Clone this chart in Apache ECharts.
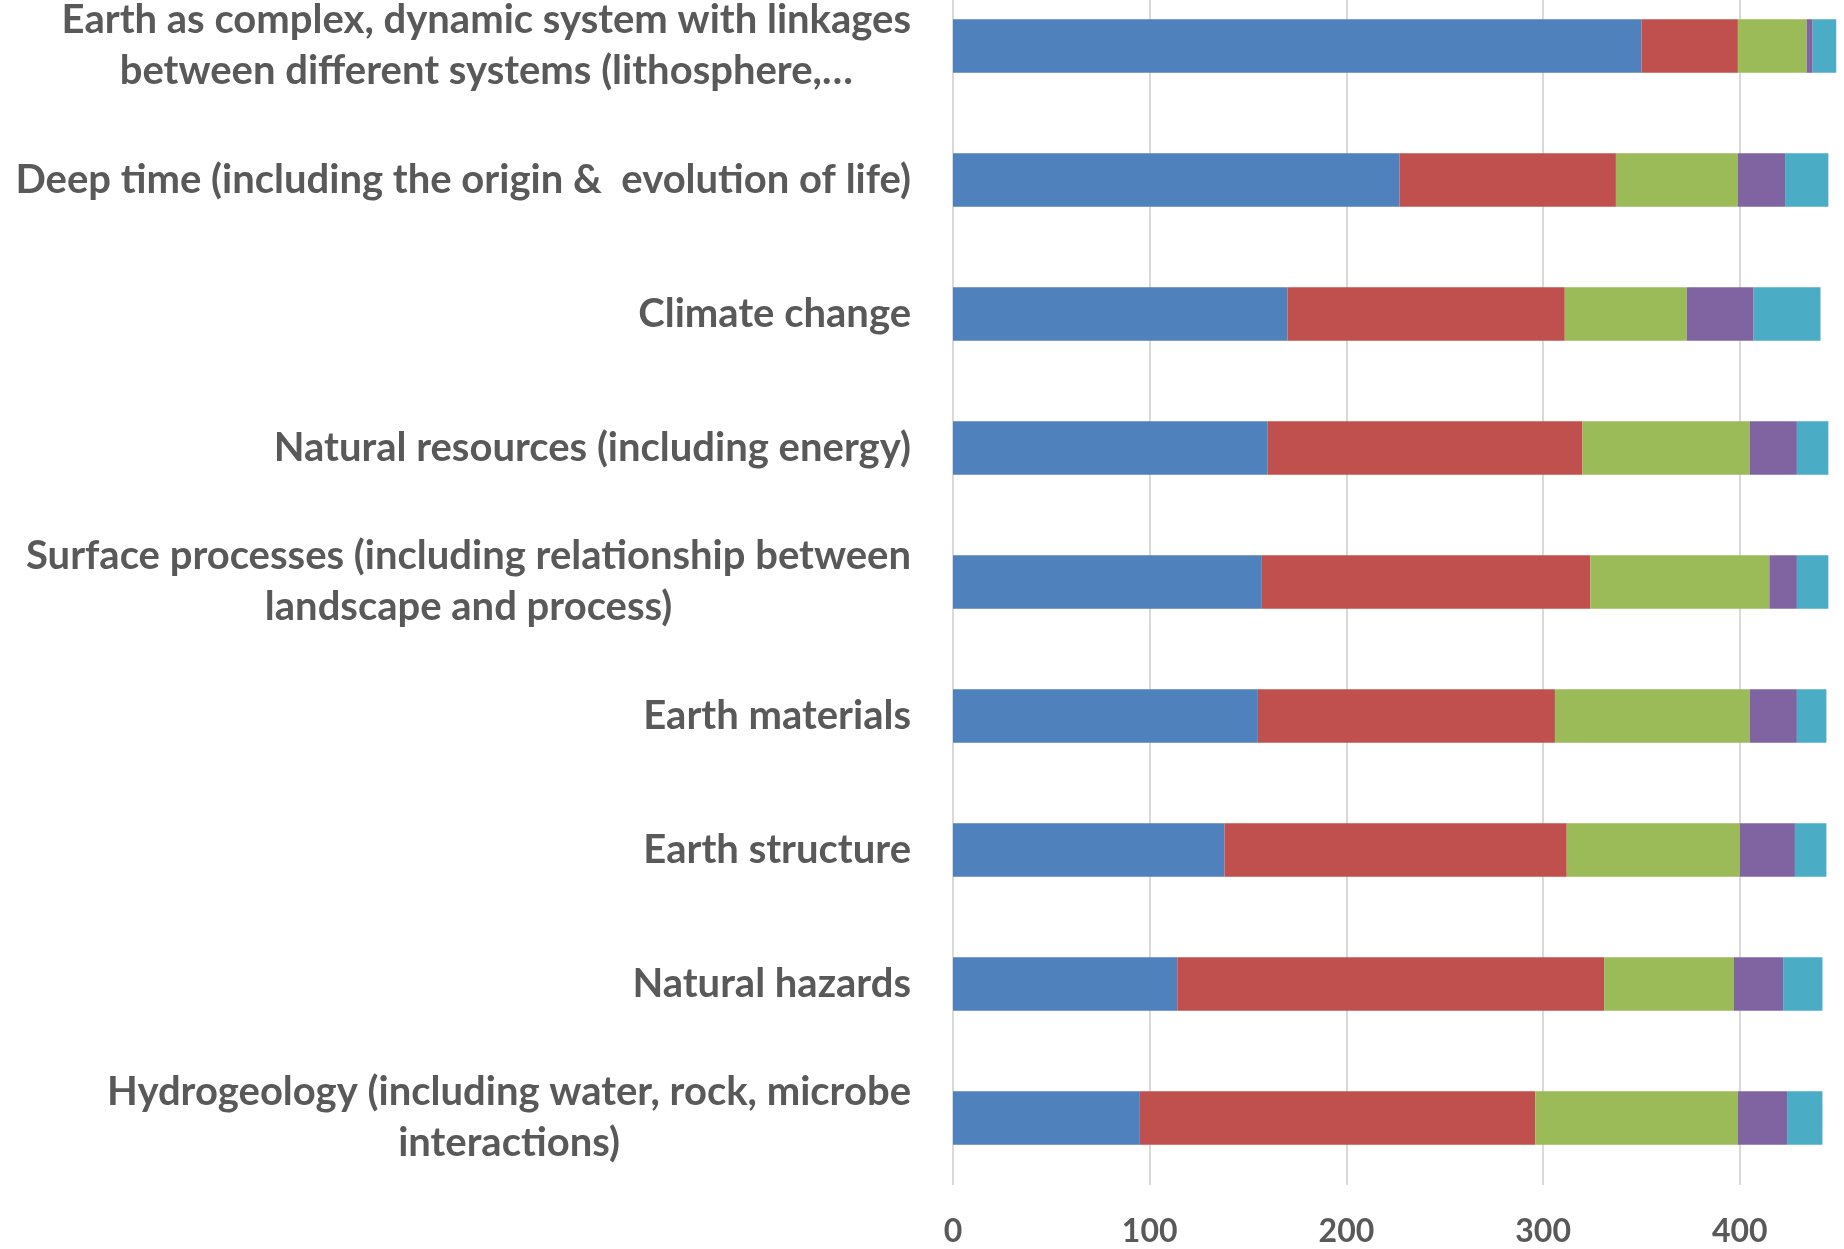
<!DOCTYPE html>
<html>
<head>
<meta charset="utf-8">
<script src="https://cdn.jsdelivr.net/npm/echarts@6/dist/echarts.min.js"></script>
<style>
  html, body { margin: 0; padding: 0; background: #ffffff; overflow: hidden; }
  #wrap { width: 1844px; height: 1249px; overflow: hidden; position: relative; }
  #chart { width: 1850px; height: 1270px; position: absolute; left: 0; top: -21px; }
</style>
</head>
<body>
<div id="wrap"><div id="chart"></div></div>
<script>
const categories = [
  "Earth as complex, dynamic system with linkages\nbetween different systems (lithosphere,…",
  "Deep time (including the origin &  evolution of life)",
  "Climate change",
  "Natural resources (including energy)",
  "Surface processes (including relationship between\nlandscape and process)",
  "Earth materials",
  "Earth structure",
  "Natural hazards",
  "Hydrogeology (including water, rock, microbe\ninteractions)"
];
const seriesBlue   = [350, 227, 170, 160, 157, 155, 138, 114, 95];
const seriesRed    = [49, 110, 141, 160, 167, 151, 174, 217, 201];
const seriesGreen  = [35, 62, 62, 85, 91, 99, 88, 66, 103];
const seriesPurple = [3, 24, 34, 24, 14, 24, 28, 25, 25];
const seriesCyan   = [12, 22, 34, 16, 16, 15, 16, 20, 18];
const tickValues = [0, 100, 200, 300, 400];

const colors = ['#4F81BD', '#C0504D', '#9BBB59', '#8064A2', '#4BACC6'];
const allSeries = [seriesBlue, seriesRed, seriesGreen, seriesPurple, seriesCyan];

const chart = echarts.init(document.getElementById('chart'), null, { renderer: 'canvas' });
const font = 'Lato';
chart.setOption({
  animation: false,
  backgroundColor: '#ffffff',
  grid: { left: 953, right: 0, top: 0, bottom: 64, containLabel: false },
  xAxis: {
    type: 'value',
    min: 0,
    max: 456,
    interval: 100,
    axisLine: { show: false },
    axisTick: { show: false },
    splitLine: { show: true, lineStyle: { color: '#D9D9D9', width: 2 } },
    axisLabel: {
      showMaxLabel: false,
      margin: 31,
      color: '#595959',
      fontFamily: font,
      fontWeight: 'bold',
      fontSize: 32,
      formatter: function (v) { return tickValues.indexOf(v) >= 0 ? String(v) : ''; }
    }
  },
  yAxis: {
    type: 'category',
    inverse: true,
    data: categories,
    axisLine: { show: false },
    axisTick: { show: false },
    axisLabel: {
      margin: 42,
      align: 'right',
      interval: 0,
      formatter: function (v) {
        return v.split('\n').map(function (l) { return '{c|' + l + '}'; }).join('\n');
      },
      rich: {
        c: {
          align: 'center',
          color: '#595959',
          fontFamily: font,
          fontWeight: 'bold',
          fontSize: 40,
          lineHeight: 51
        }
      }
    }
  },
  series: allSeries.map(function (d, i) {
    return {
      type: 'bar',
      stack: 'total',
      data: d,
      barCategoryGap: '60%',
      itemStyle: { color: colors[i] },
      emphasis: { disabled: true }
    };
  })
});
</script>
</body>
</html>
